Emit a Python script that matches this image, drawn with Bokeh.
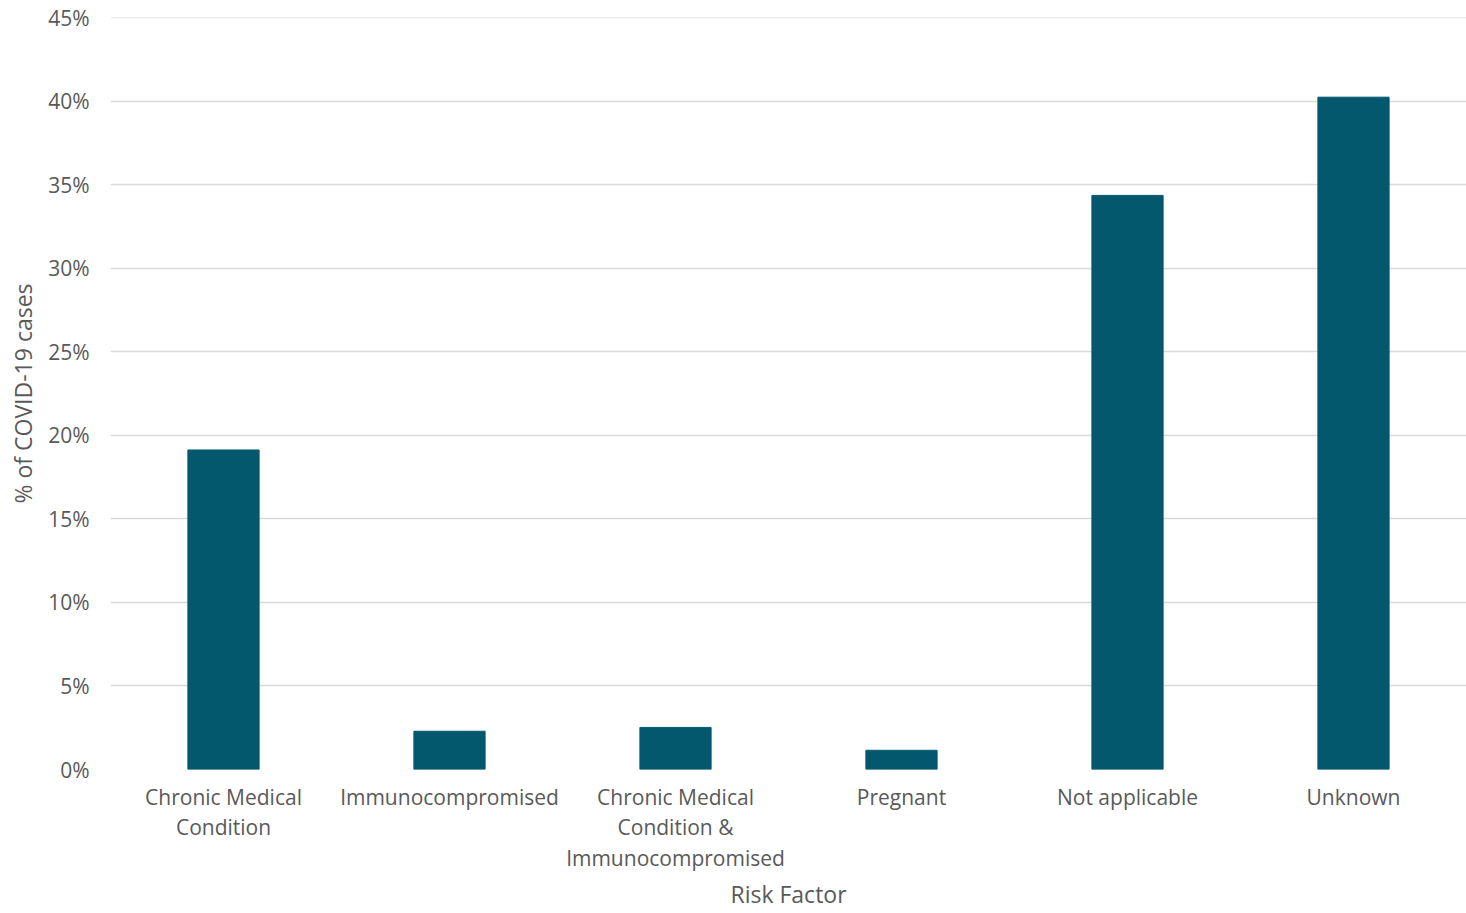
from bokeh.plotting import figure
from bokeh.models import NumeralTickFormatter, FixedTicker, Range1d
from bokeh.embed import file_html
from bokeh.resources import INLINE

categories = ["Chronic Medical\nCondition", "Immunocompromised",
              "Chronic Medical\nCondition &\nImmunocompromised", "Pregnant",
              "Not applicable", "Unknown"]
values = [0.1913, 0.0229, 0.0252, 0.0115, 0.3437, 0.4025]
y_ticks = [0, 0.05, 0.10, 0.15, 0.20, 0.25, 0.30, 0.35, 0.40, 0.45]

FONT = "Open Sans"
TXT = "#595959"

p = figure(x_range=categories, y_range=Range1d(0, 0.4502), width=1466, height=913,
           output_backend="svg", toolbar_location=None,
           min_border_left=110, min_border_right=0, min_border_top=17, min_border_bottom=0)
p.vbar(x=categories, top=values, width=0.315, color="#03586E")

p.outline_line_color = None
p.xgrid.grid_line_color = None
p.ygrid.grid_line_color = "#D9D9D9"
p.ygrid.grid_line_width = 1.5

p.yaxis.ticker = FixedTicker(ticks=y_ticks)
p.yaxis.formatter = NumeralTickFormatter(format="0%")
for ax in (p.xaxis, p.yaxis):
    ax.axis_line_color = None
    ax.major_tick_line_color = None
    ax.minor_tick_line_color = None
    ax.major_label_text_font = FONT
    ax.major_label_text_font_size = "21px"
    ax.major_label_text_color = TXT
    ax.axis_label_text_font = FONT
    ax.axis_label_text_font_size = "23px"
    ax.axis_label_text_color = TXT
    ax.axis_label_text_font_style = "normal"

p.yaxis.axis_label = "% of COVID-19 cases"
p.yaxis.major_label_standoff = 15
p.yaxis.axis_label_standoff = 6
p.xaxis.axis_label = "Risk Factor"
p.xaxis.major_label_standoff = 7
p.xaxis.major_label_text_line_height = 1.1
p.xaxis.axis_label_standoff = 3

open("out.html", "w").write(file_html(p, INLINE))
